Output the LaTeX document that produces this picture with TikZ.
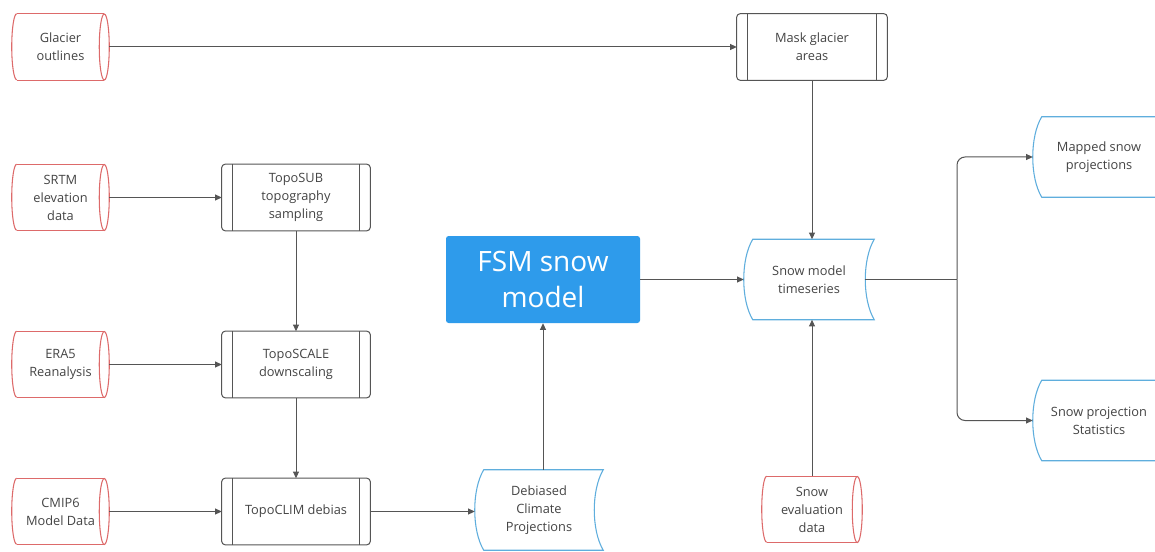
\documentclass[tikz,border=0pt]{standalone}
\usepackage{fontspec}
\setmainfont{Open Sans}
\usetikzlibrary{arrows.meta,calc}
\definecolor{redc}{HTML}{DD6A6A}
\definecolor{bluec}{HTML}{5FAEDD}
\definecolor{fsmc}{HTML}{2E9BEB}
\definecolor{linec}{HTML}{555555}
\definecolor{txtc}{HTML}{444444}
\begin{document}
\begin{tikzpicture}[x=0.75pt,y=-0.75pt,
  lab/.style={align=center,font=\fontsize{9.6}{13.5}\selectfont,text=txtc,inner sep=0pt},
  cylnode/.style={lab,minimum width=72.75pt,minimum height=49.5pt},
  procnode/.style={lab,minimum width=111pt,minimum height=49.5pt},
  datanode/.style={lab,minimum width=97.5pt,minimum height=60pt},
  cylbord/.style={draw=redc,line width=0.8pt},
  procbord/.style={draw=linec,line width=0.75pt},
  databord/.style={draw=bluec,line width=0.8pt},
  conn/.style={draw=linec,line width=0.75pt},
  arr/.style={conn,-{Triangle[length=5pt,width=4.5pt]}}]
\useasboundingbox (0,0) rectangle (1155,552);
\clip (0,0) rectangle (1155,552);
\fill[white] (0,0) rectangle (1155,552);

% cylinders (red)
\node[cylnode] (glac) at (60.5,47) {Glacier\\outlines};
\node[cylnode] (srtm) at (60.5,197.5) {SRTM\\elevation\\data};
\node[cylnode] (era) at (60.5,364.5) {ERA5\\Reanalysis};
\node[cylnode] (cmip) at (60.5,511.5) {CMIP6\\Model Data};
\node[cylnode,minimum width=75pt] (eval) at (812,509.5) {Snow\\evaluation\\data};

% process boxes
\node[procnode,minimum width=112.5pt] (mask) at (812,47) {Mask glacier\\areas};
\node[procnode] (sub) at (296,197.5) {TopoSUB\\topography\\sampling};
\node[procnode] (scale) at (296,364.5) {TopoSCALE\\downscaling};
\node[procnode] (clim) at (296,511.5) {TopoCLIM debias};

% FSM
\node[fill=fsmc,rounded corners=2pt,minimum width=145.5pt,minimum height=65.25pt,
  align=center,text=white,font=\fontsize{21}{26.5}\selectfont,inner sep=0pt] (fsm) at (543,279.5) {FSM snow\\model};

% data (blue)
\node[datanode] (ts) at (809,279.5) {Snow model\\timeseries};
\node[datanode,minimum width=96pt] (deb) at (539,510) {Debiased\\Climate\\Projections};
\node[datanode,minimum width=99pt] (map) at (1099,157) {Mapped snow\\projections};
\node[datanode,minimum width=99pt] (stat) at (1099,420.5) {Snow projection\\Statistics};

% cylinder borders
\foreach \n in {glac,srtm,era,cmip,eval}{
  \draw[cylbord] ($(\n.north west)+(5,0)$) -- ($(\n.north east)+(-5,0)$);
  \draw[cylbord] ($(\n.south west)+(5,0)$) -- ($(\n.south east)+(-5,0)$);
  \draw[cylbord] ($(\n.east)+(-5,0)$) ellipse [x radius=3.75pt,y radius=24.75pt];
  \draw[cylbord] ($(\n.north west)+(5,0)$) arc[start angle=90,end angle=270,x radius=3.75pt,y radius=24.75pt];
}
% process borders
\foreach \n in {mask,sub,scale,clim}{
  \draw[procbord,rounded corners=2.5pt] (\n.north west) rectangle (\n.south east);
  \draw[procbord] ($(\n.north west)+(11,0)$) -- ($(\n.south west)+(11,0)$);
  \draw[procbord] ($(\n.north east)+(-11,0)$) -- ($(\n.south east)+(-11,0)$);
}
% data borders
\foreach \n in {ts,deb,map,stat}{
  \draw[databord] ($(\n.north west)+(9,0)$) -- (\n.north east)
    .. controls +(-12,20) and +(-12,-20) .. (\n.south east)
    -- ($(\n.south west)+(9,0)$)
    .. controls +(-12,-20) and +(-12,20) .. ($(\n.north west)+(9,0)$) -- cycle;
}

% connectors
\draw[arr] (glac.east) -- (mask.west);
\draw[arr] (mask.south) -- (mask.south |- ts.north);
\draw[arr] (srtm.east) -- (sub.west);
\draw[arr] (sub.south) -- (scale.north);
\draw[arr] (era.east) -- (scale.west);
\draw[arr] (scale.south) -- (clim.north);
\draw[arr] (cmip.east) -- (clim.west);
\draw[arr] (clim.east) -- (clim.east -| deb.west);
\draw[arr] (deb.north -| fsm.south) -- (fsm.south);
\draw[arr] (fsm.east) -- (ts.west);
\draw[arr] (eval.north) -- (eval.north |- ts.south);
\coordinate (tsout) at ($(ts.east)+(-9,0)$);
\coordinate (split) at (957,279.5);
\draw[conn] (tsout) -- (split);
\draw[arr,rounded corners=6pt] (split) |- (map.west);
\draw[arr,rounded corners=6pt] (split) |- (stat.west);
\end{tikzpicture}
\end{document}
